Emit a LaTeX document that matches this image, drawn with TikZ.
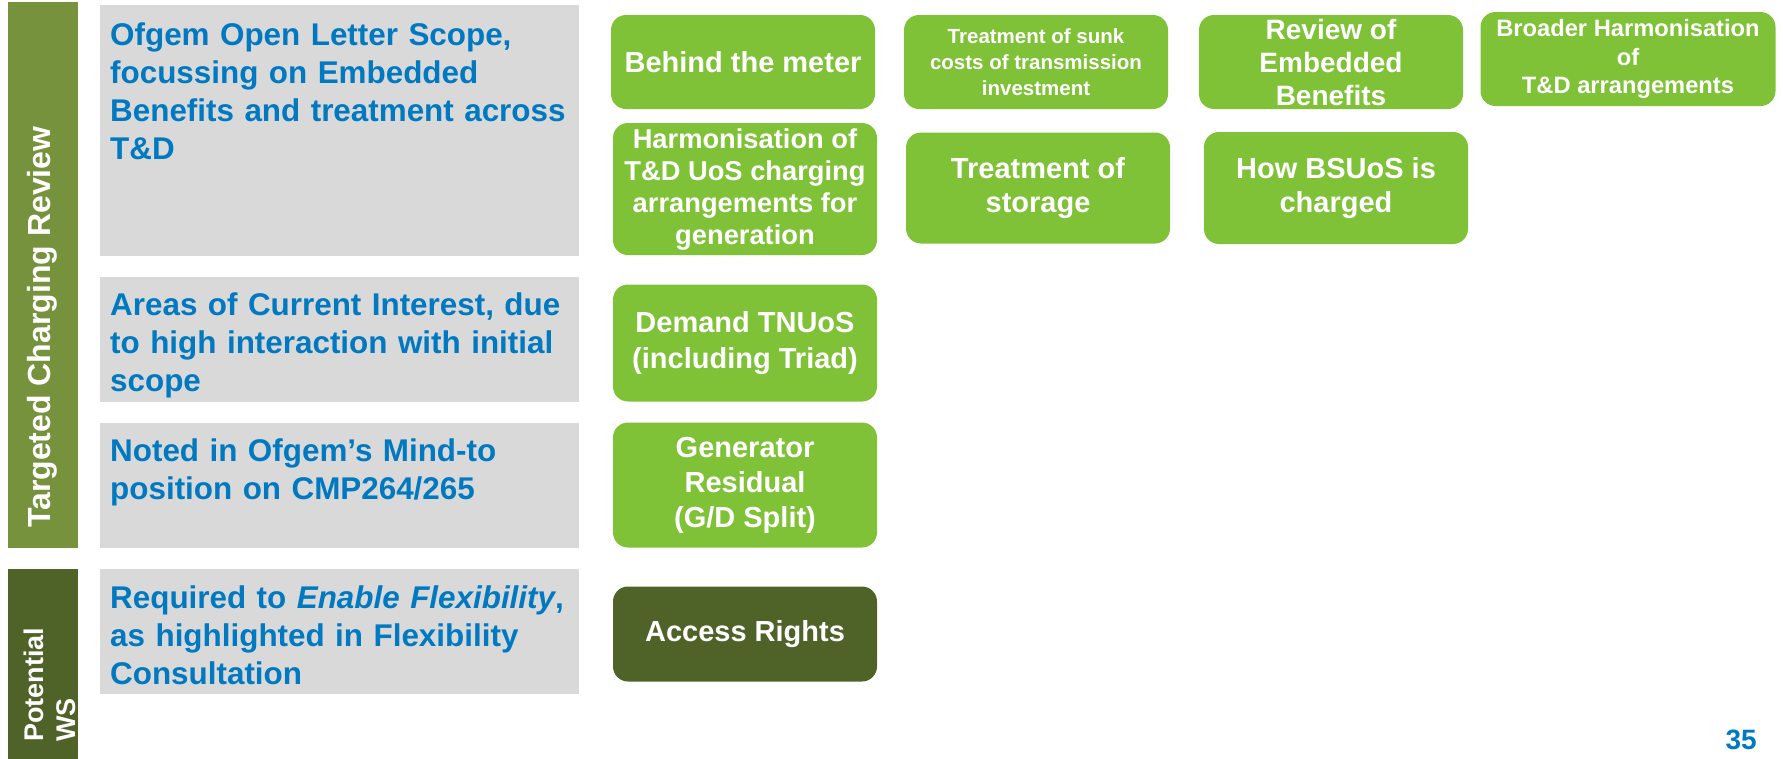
\documentclass[tikz,border=0pt]{standalone}
\usepackage{fontspec}
\setmainfont{Liberation Sans}

\definecolor{ngblue}{RGB}{0,121,193}
\definecolor{leaf}{RGB}{127,194,55}
\definecolor{barolive}{RGB}{118,146,60}
\definecolor{darkolive}{RGB}{79,98,40}
\definecolor{panel}{RGB}{217,217,217}

\begin{document}
\begin{tikzpicture}
[
    x=1pt, y=-1pt,
    bar/.style={inner sep=0, outer sep=0, minimum width=70pt, anchor=north west},
    side/.style={text=white, font=\bfseries\fontsize{32}{38}\selectfont, rotate=90, inner sep=0, anchor=base west},
    area/.style={fill=panel, inner sep=0, outer sep=0, minimum width=479pt, anchor=north west},
    areatext/.style={text=ngblue, font=\bfseries\fontsize{31.4}{38}\selectfont, text width=470pt, align=left, inner sep=0, anchor=base west},
    topic/.style={fill=leaf, rounded corners=15pt, text=white, font=\bfseries\fontsize{29}{34}\selectfont, align=center, inner sep=0, minimum width=264pt},
]
\useasboundingbox (0,0) rectangle (1783,758);

\node[bar, fill=barolive, minimum height=546pt] (review) at (8,2) {};
\node[bar, fill=darkolive, minimum height=190pt] (potential) at (8,569) {};
\node[side] (reviewlabel) at (50,528) {Targeted Charging Review};
\node[side, font=\bfseries\fontsize{27}{32}\selectfont, text width=140pt, align=left] (potentiallabel) at (43,742) {Potential\\WS};

\node[area, minimum height=251pt] (scope) at (100,5) {};
\node[area, minimum height=125pt] (interest) at (100,277) {};
\node[area, minimum height=125pt] (mindto) at (100,423) {};
\node[area, minimum height=125pt] (flex) at (100,569) {};

\node[areatext] (scopetext) at ([xshift=10pt, yshift=-40pt]scope.north west)
{Ofgem Open Letter Scope,\\focussing on Embedded\\Benefits and treatment across\\T\&D};
\node[areatext] (interesttext) at ([xshift=10pt, yshift=-38pt]interest.north west)
{Areas of Current Interest, due\\to high interaction with initial\\scope};
\node[areatext] (mindtotext) at ([xshift=10pt, yshift=-38pt]mindto.north west)
{Noted in Ofgem’s Mind-to\\position on CMP264/265};
\node[areatext] (flextext) at ([xshift=10pt, yshift=-39pt]flex.north west)
{Required to \textit{Enable Flexibility},\\as highlighted in Flexibility\\Consultation};

\node[topic, minimum height=94pt] (meter) at (743,62) {Behind the meter};
\node[topic, minimum height=94pt, font=\bfseries\fontsize{20.5}{26}\selectfont] (sunk) at (1036,62)
{Treatment of sunk\\costs of transmission\\investment};
\node[topic, minimum height=94pt, font=\bfseries\fontsize{28}{33}\selectfont] (embedded) at (1331,62)
{Review of\\Embedded\\Benefits};
\node[topic, minimum height=94pt, minimum width=295pt, font=\bfseries\fontsize{23.7}{28.3}\selectfont] (broader) at (1628,59)
{Broader Harmonisation\\of\\T\&D arrangements};
\node[topic, minimum height=132pt, font=\bfseries\fontsize{27.3}{32}\selectfont] (harmonise) at (745,189)
{Harmonisation of\\T\&D UoS charging\\arrangements for\\generation};
\node[topic, minimum height=111pt] (storage) at (1038,188) {Treatment of\\storage};
\node[topic, minimum height=112pt] (bsuos) at (1336,188) {How BSUoS is\\charged};
\node[topic, minimum height=117pt, font=\bfseries\fontsize{29}{36}\selectfont] (tnuos) at (745,343)
{Demand TNUoS\\(including Triad)};
\node[topic, minimum height=125pt, font=\bfseries\fontsize{29}{35}\selectfont] (residual) at (745,485)
{Generator\\Residual\\(G/D Split)};
\node[topic, minimum height=95pt, fill=darkolive] (access) at (745,634) {Access Rights};

\node[text=ngblue, font=\bfseries\fontsize{28}{34}\selectfont, inner sep=0, anchor=base east] (page) at (1757,749) {35};
\end{tikzpicture}
\end{document}
